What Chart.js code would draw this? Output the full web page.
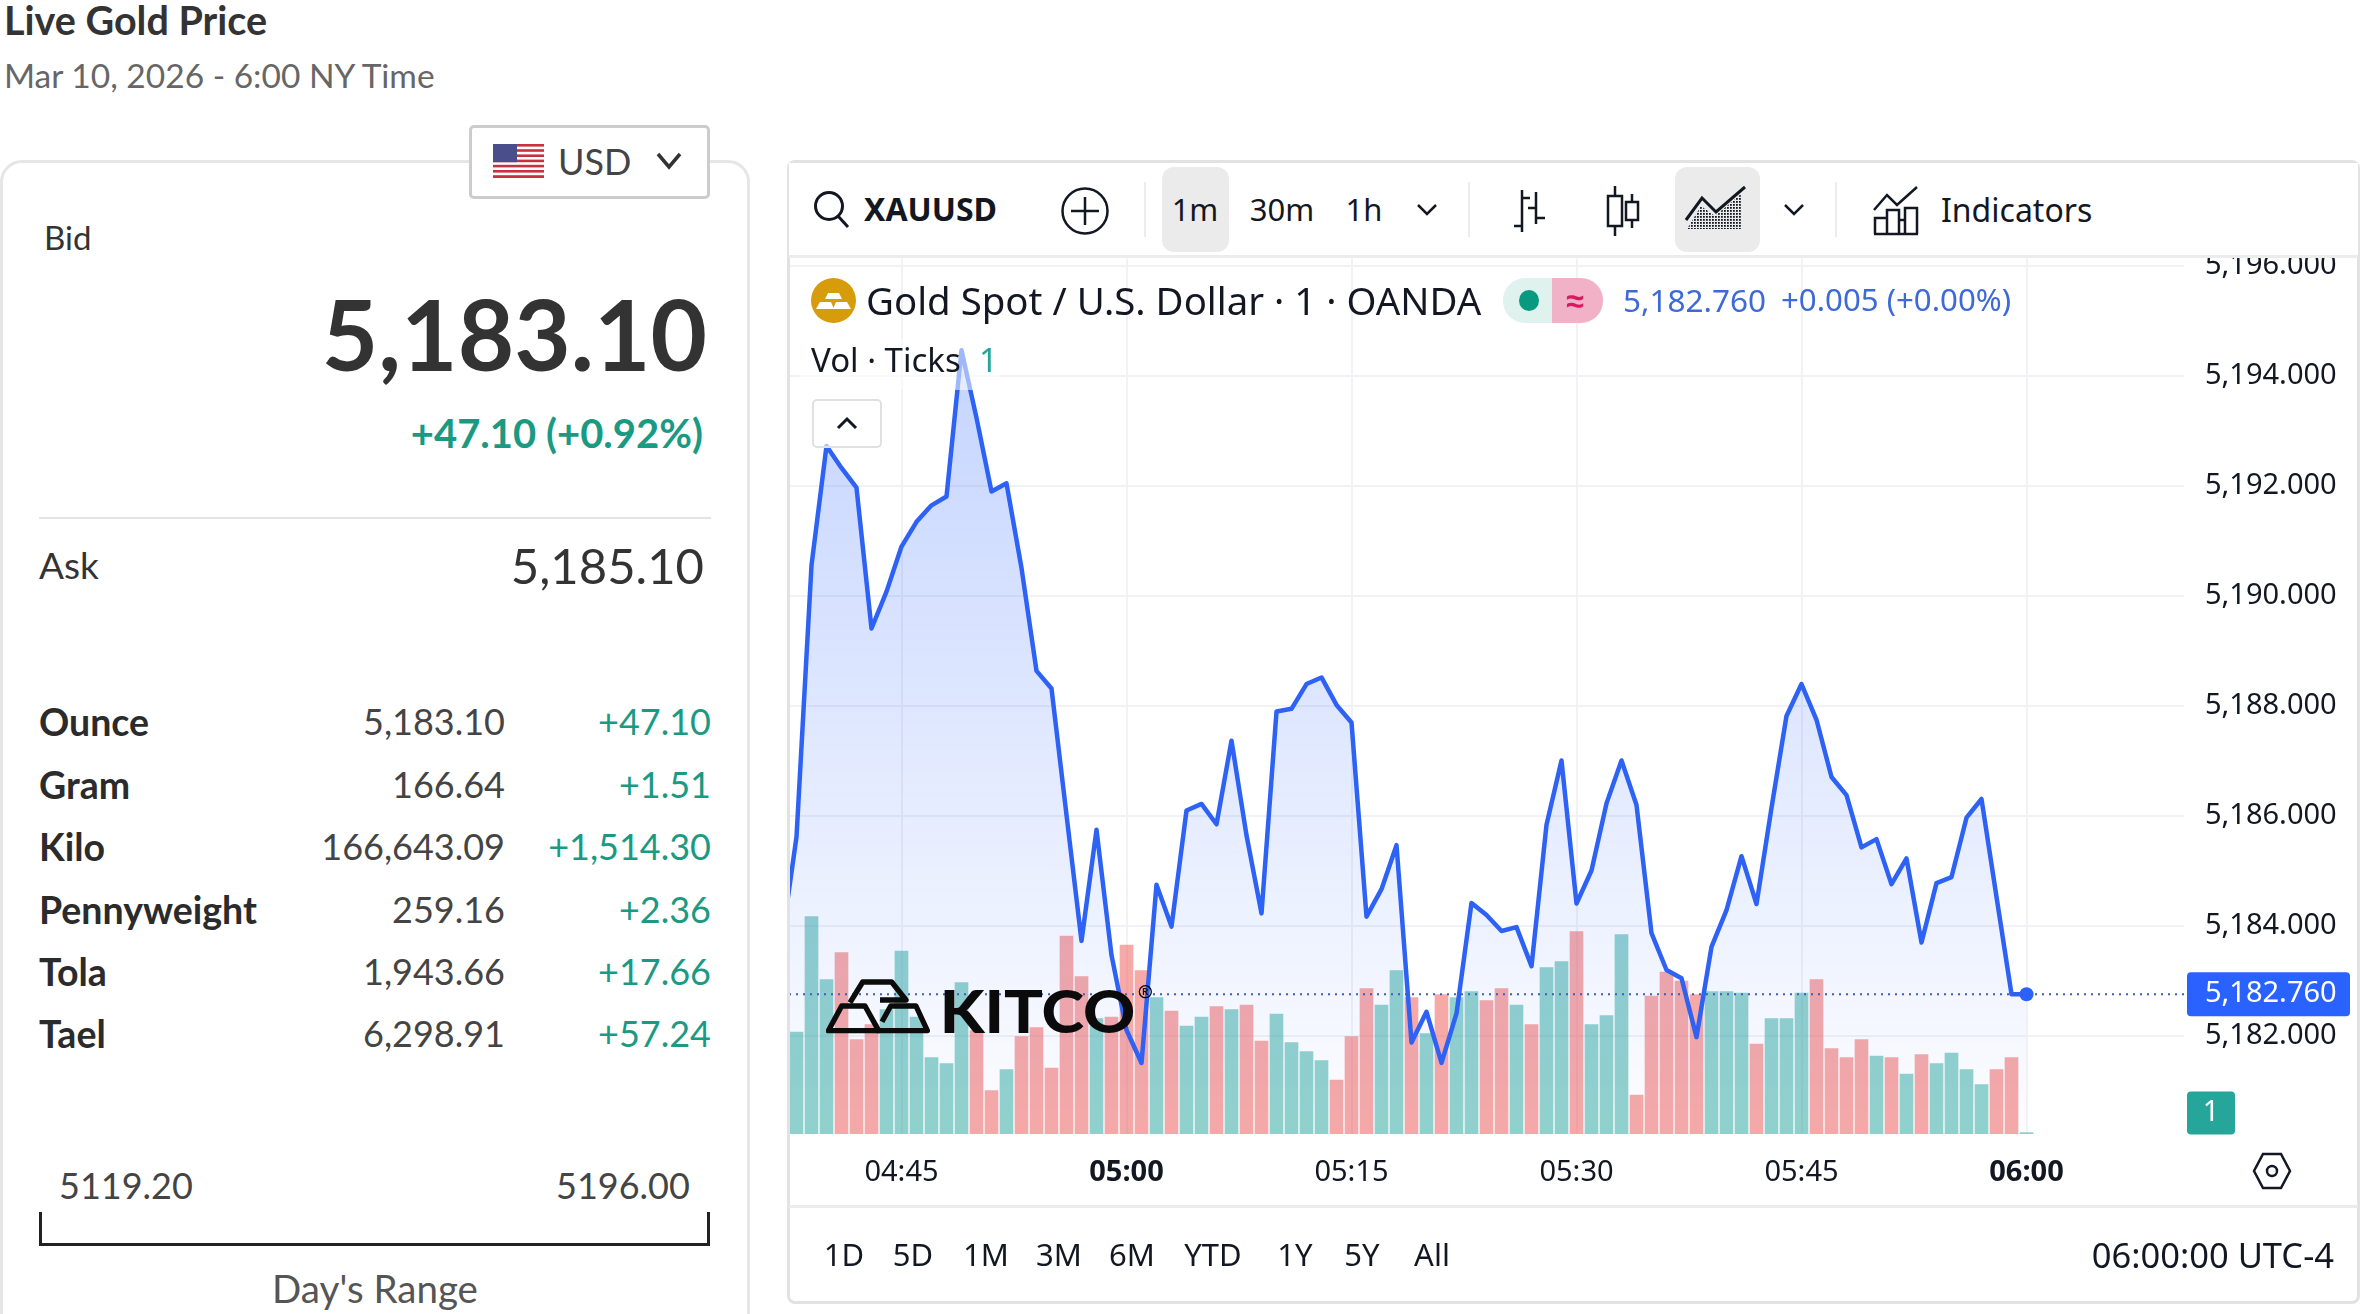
<!DOCTYPE html>
<html lang="en">
<head>
<meta charset="UTF-8">
<title>Live Gold Price</title>
<script src="https://cdn.jsdelivr.net/npm/chart.js"></script>
<style>
    html, body { margin: 0; padding: 0; background: #fff; }
    body { width: 2363px; height: 1314px; position: relative; overflow: hidden; font-family: Lato, sans-serif; color: #333; }
    .t { position: absolute; white-space: nowrap; transform: translateY(-50%); line-height: 1.2; }
    .c { transform: translate(-50%, -50%); }
    .tv { font-family: "Noto Sans", sans-serif; color: #131722; }
    .box { position: absolute; box-sizing: border-box; }
    .abs { position: absolute; overflow: visible; }
    .green { color: #1a9a82; }
    .lbl { font-size: 37.500px; font-weight: 700; left: 39px; color: #2b2b2b; margin-top: -1px; }
    .val { font-size: 36px; right: 1858px; color: #444; }
    .chg { font-size: 36px; right: 1652px; }
    .tf { font-size: 31px; }
    /* the part of the canvas above y=258 stays under the toolbar */
    canvas { position: absolute; left: 780px; top: 220px; }
</style>
</head>
<body>
    <!-- left panel -->
    <div class="t" style="left:4px;top:20px;font-size:39.500px;font-weight:700;">Live Gold Price</div>
    <div class="t" style="left:4px;top:75px;font-size:33.500px;color:#666;">Mar 10, 2026 - 6:00 NY Time</div>
    <div class="box" style="left:0;top:160px;width:750px;height:1200px;border:3px solid #e6e6e6;border-radius:22px;"></div>
    <div class="box" style="left:469px;top:125px;width:241px;height:74px;border:3px solid #ccc;border-radius:5px;background:#fff;"></div>
    <svg class="abs" style="left:493px;top:144px;" width="51" height="34" viewBox="0 0 51 34">
        <rect width="51" height="34" fill="#fff"/>
        <g fill="#c8313e"><rect y="0" width="51" height="2.6"/><rect y="5.2" width="51" height="2.6"/><rect y="10.4" width="51" height="2.6"/><rect y="15.6" width="51" height="2.6"/><rect y="20.8" width="51" height="2.6"/><rect y="26" width="51" height="2.6"/><rect y="31.2" width="51" height="2.8"/></g>
        <rect width="24" height="18.2" fill="#4a4f8c"/>
    </svg>
    <div class="t" style="left:558px;top:162px;font-size:36px;color:#444;">USD</div>
    <svg class="abs" style="left:656px;top:151px;" width="26" height="20"><path d="M2 3 L13 16 L24 3" fill="none" stroke="#333" stroke-width="3.5"/></svg>
    <div class="t" style="left:44px;top:238px;font-size:33px;">Bid</div>
    <div class="t" style="right:1656px;top:333px;font-size:97.500px;font-weight:700;">5,183.10</div>
    <div class="t green" style="right:1660px;top:433px;font-size:40px;font-weight:700;">+47.10 (+0.92%)</div>
    <div class="box" style="left:39px;top:517px;width:672px;height:2px;background:#e3e3e3;"></div>
    <div class="t" style="left:39px;top:565px;font-size:37px;">Ask</div>
    <div class="t" style="right:1659px;top:565px;font-size:49px;">5,185.10</div>

    <div class="t lbl" style="top:722px;">Ounce</div><div class="t val" style="top:722px;">5,183.10</div><div class="t chg green" style="top:722px;">+47.10</div>
    <div class="t lbl" style="top:785px;">Gram</div><div class="t val" style="top:785px;">166.64</div><div class="t chg green" style="top:785px;">+1.51</div>
    <div class="t lbl" style="top:847px;">Kilo</div><div class="t val" style="top:847px;">166,643.09</div><div class="t chg green" style="top:847px;">+1,514.30</div>
    <div class="t lbl" style="top:910px;">Pennyweight</div><div class="t val" style="top:910px;">259.16</div><div class="t chg green" style="top:910px;">+2.36</div>
    <div class="t lbl" style="top:972px;">Tola</div><div class="t val" style="top:972px;">1,943.66</div><div class="t chg green" style="top:972px;">+17.66</div>
    <div class="t lbl" style="top:1034px;">Tael</div><div class="t val" style="top:1034px;">6,298.91</div><div class="t chg green" style="top:1034px;">+57.24</div>

    <div class="t" style="left:59px;top:1186px;font-size:36px;color:#444;">5119.20</div>
    <div class="t" style="left:556px;top:1186px;font-size:36px;color:#444;">5196.00</div>
    <div class="box" style="left:39px;top:1212px;width:671px;height:34px;border:3px solid #222;border-top:none;"></div>
    <div class="t c" style="left:375px;top:1288px;font-size:38.500px;color:#555;">Day's Range</div>

    <!-- chart frame -->
    <canvas id="goldChart" width="1583" height="986"></canvas>
    <div class="box" style="left:787px;top:160px;width:1573px;height:1144px;border:3px solid #e2e2e2;border-radius:8px;"></div>

    <!-- toolbar -->
    <div class="box" style="left:789px;top:163px;width:1569px;height:95px;background:#fff;border-bottom:3px solid #ececec;"></div>
    <svg class="abs" style="left:813px;top:190px;" width="38" height="40"><circle cx="16" cy="16" r="13.5" fill="none" stroke="#131722" stroke-width="3"/><path d="M25 26 L35 37" stroke="#131722" stroke-width="3"/></svg>
    <div class="t tv" style="left:864px;top:209px;font-size:32px;font-weight:700;">XAUUSD</div>
    <svg class="abs" style="left:1060px;top:186px;" width="50" height="50"><circle cx="25" cy="25" r="22.5" fill="none" stroke="#131722" stroke-width="2.5"/><path d="M25 11 V39 M11 25 H39" stroke="#131722" stroke-width="2.5"/></svg>
    <div class="box" style="left:1144px;top:182px;width:2px;height:55px;background:#ececec;"></div>
    <div class="box" style="left:1162px;top:167px;width:67px;height:85px;background:#ebebeb;border-radius:12px;"></div>
    <div class="t tv c tf" style="left:1195px;top:210px;">1m</div>
    <div class="t tv c tf" style="left:1282px;top:210px;">30m</div>
    <div class="t tv c tf" style="left:1364px;top:210px;">1h</div>
    <svg class="abs" style="left:1416px;top:203px;" width="22" height="14"><path d="M2 2 L11 11 L20 2" fill="none" stroke="#131722" stroke-width="2.5"/></svg>
    <div class="box" style="left:1468px;top:182px;width:2px;height:55px;background:#ececec;"></div>
    <svg class="abs" style="left:1508px;top:188px;" width="40" height="46"><path d="M14 2 V44 M14 10 H22 M6 38 H14 M28 4 V36 M20 20 H28 M28 30 H37" fill="none" stroke="#131722" stroke-width="2.5"/></svg>
    <svg class="abs" style="left:1604px;top:184px;" width="36" height="54"><path d="M11 2 V52 M28 10 V44" stroke="#131722" stroke-width="2.5"/><rect x="4" y="12" width="14" height="30" fill="#fff" stroke="#131722" stroke-width="2.5"/><rect x="22" y="18" width="12" height="18" fill="#fff" stroke="#131722" stroke-width="2.5"/></svg>
    <div class="box" style="left:1675px;top:167px;width:85px;height:85px;background:#ebebeb;border-radius:12px;"></div>
    <svg class="abs" style="left:1685px;top:186px;" width="64" height="46">
        <defs><pattern id="dots" width="3" height="3" patternUnits="userSpaceOnUse"><rect width="1.8" height="1.8" fill="#131722"/></pattern></defs>
        <path d="M2 43 L16 20 L30 30 L56 8 V43 Z" fill="url(#dots)"/>
        <path d="M1 34 L17 12 L31 26 L60 1" fill="none" stroke="#131722" stroke-width="3"/>
    </svg>
    <svg class="abs" style="left:1783px;top:203px;" width="22" height="14"><path d="M2 2 L11 11 L20 2" fill="none" stroke="#131722" stroke-width="2.5"/></svg>
    <div class="box" style="left:1835px;top:182px;width:2px;height:55px;background:#ececec;"></div>
    <svg class="abs" style="left:1873px;top:186px;" width="46" height="50"><path d="M1 24 L14 9 L24 19 L44 1" fill="none" stroke="#131722" stroke-width="2.5"/><path d="M2 48 V32 H14 V48 M14 48 V24 H26 V48 M26 48 V34 H32 V48 M32 48 V22 H44 V48 M1 48 H45" fill="none" stroke="#131722" stroke-width="2.5"/></svg>
    <div class="t tv tf" style="left:1941px;top:210px;font-size:32px;">Indicators</div>

    <!-- legend rows -->
    <svg class="abs" style="left:811px;top:278px;" width="45" height="45"><circle cx="22.500" cy="22.500" r="22.500" fill="#d79c0b"/><path d="M17 15 H28 L31 21 H14 Z M9 24 H20 L23 31 H5 Z M25 24 H36 L40 31 H22 Z" fill="#fff"/></svg>
    <div class="t tv" style="left:866px;top:300px;font-size:38.400px;">Gold Spot / U.S. Dollar · 1 · OANDA</div>
    <div class="box" style="left:1503px;top:278px;width:50px;height:45px;background:#dff2ee;border-radius:22px 0 0 22px;"></div>
    <div class="box" style="left:1552px;top:278px;width:51px;height:45px;background:#f1b1c7;border-radius:0 22px 22px 0;"></div>
    <div class="box" style="left:1519px;top:290px;width:20px;height:21px;background:#089981;border-radius:50%;"></div>
    <div class="t tv c" style="left:1575px;top:300px;font-size:32px;font-weight:700;color:#d81b60;">≈</div>
    <div class="t tv" style="left:1623px;top:300px;font-size:31.500px;color:#3d6ad6;">5,182.760</div>
    <div class="t tv" style="left:1781px;top:300px;font-size:31.200px;color:#3d6ad6;">+0.005 (+0.00%)</div>

    <div class="box" style="left:800px;top:338px;width:200px;height:52px;background:rgba(255,255,255,.55);z-index:2;"></div>
    <div class="t tv" style="left:811px;top:360px;font-size:33px;z-index:3;">Vol · Ticks</div>
    <div class="t tv" style="left:979px;top:360px;font-size:33px;color:#26a69a;z-index:3;">1</div>
    <div class="box" style="left:812px;top:399px;width:70px;height:49px;border:2px solid #e0e0e0;border-radius:5px;background:rgba(255,255,255,.6);"></div>
    <svg class="abs" style="left:836px;top:416px;" width="22" height="14"><path d="M2 12 L11 3 L20 12" fill="none" stroke="#131722" stroke-width="3"/></svg>

    <!-- watermark -->
    <svg class="abs" style="left:780px;top:780px;" width="500" height="400" viewBox="0 0 1500 1200">
        <g fill="none" stroke="#0b0b0b" stroke-width="16" stroke-linejoin="round">
            <path d="M210 668 L248 606 L335 606 L378 660 H300"/>
            <path d="M145 752 L185 678 L255 678 L296 752 Z"/>
            <path d="M306 725 L332 678 L408 678 L442 752 H290"/>
        </g>
        <text x="479" y="759" font-family="Lato, sans-serif" font-weight="900" font-size="178" textLength="587" lengthAdjust="spacingAndGlyphs" fill="#0b0b0b">KITCO</text>
        <circle cx="1096" cy="635" r="18" fill="none" stroke="#0b0b0b" stroke-width="4"/>
        <text x="1096" y="646" text-anchor="middle" font-family="Lato, sans-serif" font-weight="700" font-size="30" fill="#0b0b0b">R</text>
    </svg>

    <!-- bottom bar -->
    <svg class="abs" style="left:2253px;top:1152px;" width="38" height="38"><path d="M10 2 H28 L37 19 L28 36 H10 L1 19 Z" fill="none" stroke="#131722" stroke-width="2.500"/><circle cx="19" cy="19" r="5" fill="none" stroke="#131722" stroke-width="2.500"/></svg>
    <div class="box" style="left:789px;top:1205px;width:1569px;height:3px;background:#ececec;"></div>
    <div class="t tv c tf" style="left:844px;top:1255px;">1D</div>
    <div class="t tv c tf" style="left:913px;top:1255px;">5D</div>
    <div class="t tv c tf" style="left:986px;top:1255px;">1M</div>
    <div class="t tv c tf" style="left:1059px;top:1255px;">3M</div>
    <div class="t tv c tf" style="left:1132px;top:1255px;">6M</div>
    <div class="t tv c tf" style="left:1213px;top:1255px;">YTD</div>
    <div class="t tv c tf" style="left:1295px;top:1255px;">1Y</div>
    <div class="t tv c tf" style="left:1362px;top:1255px;">5Y</div>
    <div class="t tv c tf" style="left:1432px;top:1255px;">All</div>
    <div class="t tv tf" style="right:29px;top:1255px;font-size:34.500px;">06:00:00 UTC-4</div>

    <script>
        // price per minute, first value is 04:37 (just left of the visible range)
        const priceStartMinute = 277;
        const priceValues = [
            5183.69, 5185.62, 5190.56, 5192.73, 5192.33, 5191.97, 5189.41, 5190.08, 5190.90, 5191.35,
            5191.65, 5191.81, 5194.47, 5193.24, 5191.90, 5192.05, 5190.51, 5188.64, 5188.32, 5186.02,
            5183.73, 5185.75, 5183.47, 5182.11, 5181.51, 5184.75, 5183.99, 5186.10, 5186.22, 5185.85,
            5187.37, 5185.65, 5184.23, 5187.90, 5187.95, 5188.40, 5188.52, 5188.02, 5187.70, 5184.17,
            5184.67, 5185.47, 5181.88, 5182.44, 5181.51, 5182.41, 5184.42, 5184.20, 5183.91, 5183.98,
            5183.27, 5185.84, 5187.01, 5184.41, 5185.01, 5186.23, 5187.01, 5186.20, 5183.87, 5183.20,
            5183.05, 5181.98, 5183.62, 5184.29, 5185.27, 5184.40, 5186.15, 5187.82, 5188.40, 5187.75,
            5186.71, 5186.38, 5185.43, 5185.58, 5184.76, 5185.23, 5183.70, 5184.78, 5184.89, 5185.97,
            5186.31, 5184.53, 5182.76, 5182.76
        ];
        const lastPrice = 5182.76;

        // volume in ticks per minute, first value is 04:38
        const volumeStartMinute = 278;
        const volumeValues = [
            68, 145, 103, 121, 63, 73, 83, 122, 78, 51, 47, 101, 69, 29, 43, 65, 71, 44, 132, 105,
            77, 78, 126, 109, 91, 82, 72, 78, 85, 83, 86, 62, 80, 61, 55, 49, 36, 65, 97, 86,
            109, 91, 67, 93, 91, 95, 89, 97, 86, 73, 111, 115, 135, 73, 79, 133, 26, 92, 108, 102,
            93, 95, 95, 94, 60, 77, 77, 94, 103, 57, 51, 63, 52, 51, 40, 53, 47, 54, 43, 33,
            43, 51, 1
        ];
        // g = up minute, r = down minute
        const volumeSides = [
            'g','g','g','r','r','r','g','g','g','g','g','g','r','r','g','r','r','r','r','r',
            'g','r','r','r','g','r','g','g','r','g','r','r','g','g','g','g','r','r','r','g',
            'g','r','g','r','g','g','r','r','g','r','g','g','r','g','g','g','r','r','r','r',
            'r','g','g','g','r','g','g','g','r','r','r','r','g','r','g','r','g','g','g','g',
            'r','r','g'
        ];

        const timeTicks = [285, 300, 315, 330, 345, 360];
        const timeLabels = ['04:45', '05:00', '05:15', '05:30', '05:45', '06:00'];
        const boldTimes = [300, 360];
        const priceTicks = [5182, 5184, 5186, 5188, 5190, 5192, 5194, 5196];

        const fmtPrice = v => v.toLocaleString('en-US', { minimumFractionDigits: 3, maximumFractionDigits: 3 });
        const axisFont = '"Noto Sans", sans-serif';

        const areaFill = ctx => {
            const chart = ctx.chart;
            if (!chart.chartArea) return 'rgba(41,98,255,.1)';
            const top = chart.scales.y.getPixelForValue(Math.max(...priceValues));
            const g = chart.ctx.createLinearGradient(0, top, 0, chart.chartArea.bottom);
            g.addColorStop(0, 'rgba(41,98,255,.27)');
            g.addColorStop(1, 'rgba(41,98,255,.01)');
            return g;
        };

        // price tag and volume tag on the right axis
        const axisTags = {
            id: 'axisTags',
            afterDraw(chart) {
                const c = chart.ctx;
                const yPrice = chart.scales.y.getPixelForValue(lastPrice);
                const left = chart.chartArea.right + 3;
                c.save();
                c.fillStyle = '#2962ff';
                c.beginPath();
                c.roundRect(left, yPrice - 22, 163, 44, 4);
                c.fill();
                c.fillStyle = '#fff';
                c.font = '29px ' + axisFont;
                c.textBaseline = 'middle';
                c.textAlign = 'left';
                c.fillText(fmtPrice(lastPrice), left + 18, yPrice);
                const yVol = chart.scales.yVol.getPixelForValue(volumeValues[volumeValues.length - 1]);
                c.fillStyle = '#26a69a';
                c.beginPath();
                c.roundRect(left, yVol - 41, 48, 43, 4);
                c.fill();
                c.fillStyle = '#fff';
                c.textAlign = 'center';
                c.fillText(String(volumeValues[volumeValues.length - 1]), left + 24, yVol - 20);
                c.restore();
            }
        };

        new Chart(document.getElementById('goldChart'), {
            data: {
                datasets: [
                    {
                        type: 'line',
                        label: 'Last price',
                        data: [{ x: 277.5, y: lastPrice }, { x: 370.5, y: lastPrice }],
                        yAxisID: 'y',
                        borderColor: '#3f5cb0',
                        borderWidth: 2,
                        borderDash: [2, 5],
                        pointRadius: 0,
                        order: 0
                    },
                    {
                        type: 'line',
                        label: 'XAUUSD',
                        data: priceValues.map((v, i) => ({ x: priceStartMinute + i, y: v })),
                        yAxisID: 'y',
                        borderColor: '#2d62f5',
                        borderWidth: 4.5,
                        borderJoinStyle: 'round',
                        tension: 0,
                        fill: 'start',
                        backgroundColor: areaFill,
                        pointRadius: ctx => ctx.dataIndex === priceValues.length - 1 ? 7 : 0,
                        pointBackgroundColor: '#2962ff',
                        pointBorderWidth: 0,
                        order: 1
                    },
                    {
                        type: 'bar',
                        label: 'Vol',
                        data: volumeValues.map((v, i) => ({ x: volumeStartMinute + i, y: v })),
                        yAxisID: 'yVol',
                        backgroundColor: volumeSides.map(s => s === 'g' ? 'rgba(38,166,154,.5)' : 'rgba(239,83,80,.5)'),
                        barThickness: 13,
                        borderWidth: 0,
                        order: 2
                    }
                ]
            },
            options: {
                responsive: false,
                animation: false,
                layout: { autoPadding: false, padding: { left: 9, top: 0, right: 0, bottom: 0 } },
                plugins: { legend: { display: false }, tooltip: { enabled: false } },
                scales: {
                    x: {
                        type: 'linear',
                        offset: false,
                        min: 277.5,
                        max: 370.5,
                        afterBuildTicks: s => { s.ticks = timeTicks.map(v => ({ value: v })); },
                        afterFit: s => { s.height = 72; },
                        border: { display: false },
                        grid: { color: '#f1f2f6', lineWidth: 2, drawTicks: false, offset: false },
                        ticks: {
                            autoSkip: false,
                            maxRotation: 0,
                            padding: 21,
                            color: '#131722',
                            font: ctx => ({
                                family: axisFont,
                                size: 29,
                                weight: boldTimes.includes(ctx.tick && ctx.tick.value) ? '700' : '400'
                            }),
                            callback: v => timeLabels[timeTicks.indexOf(v)]
                        }
                    },
                    y: {
                        position: 'right',
                        offset: false,
                        min: 5180.218,
                        max: 5196.14,
                        afterBuildTicks: s => { s.ticks = priceTicks.map(v => ({ value: v })); },
                        afterFit: s => { s.width = 179; },
                        border: { display: false },
                        grid: { color: '#f1f2f6', lineWidth: 2, drawTicks: false },
                        ticks: {
                            autoSkip: false,
                            padding: 21,
                            color: '#131722',
                            font: { family: axisFont, size: 29 },
                            callback: v => fmtPrice(v)
                        }
                    },
                    yVol: {
                        display: false,
                        position: 'left',
                        offset: false,
                        min: 0,
                        max: 584
                    }
                }
            },
            plugins: [axisTags]
        });
    </script>
</body>
</html>
